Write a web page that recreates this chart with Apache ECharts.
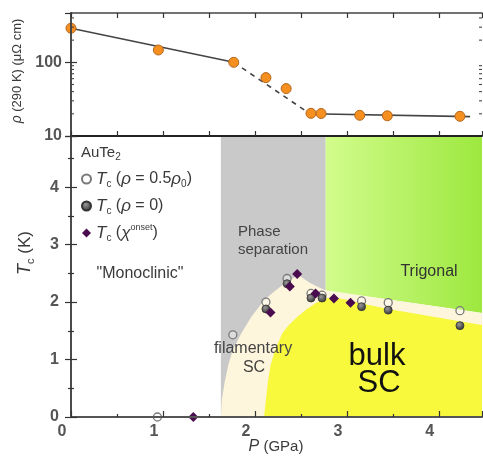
<!DOCTYPE html>
<html><head><meta charset="utf-8">
<script src="https://cdn.jsdelivr.net/npm/echarts@6/dist/echarts.min.js"></script>
<style>html,body{margin:0;padding:0;background:#fff}#c{width:483px;height:463px}</style>
</head><body><div id="c"></div>
<script>
// ---------- data ----------
const pTicks = [0, 1, 2, 3, 4];
const rhoMinorTicks = [20, 30, 40, 50, 60, 70, 80, 90, 200, 300, 400];
const rhoP   = [0, 0.95, 1.77, 2.12, 2.34, 2.61, 2.72, 3.14, 3.44, 4.23];
const rhoVal = [290, 147, 100, 62, 44, 20.3, 20.2, 19.1, 18.8, 18.5];
const rhoFitSolidA = [[0, 290], [1.77, 100]];
const rhoFitDashed = [[1.77, 100], [2.60, 20]];
const rhoFitSolidB = [[2.60, 20], [4.34, 18.3]];

const tcHalfP = [0.94, 1.76, 2.12, 2.35, 2.61, 2.73, 3.16, 3.45, 4.23];
const tcHalf  = [0, 1.43, 2.0, 2.41, 2.15, 2.12, 2.02, 1.99, 1.85];
const tcZeroP = [2.12, 2.35, 2.61, 2.73, 3.16, 3.45, 4.23];
const tcZero  = [1.88, 2.32, 2.07, 2.07, 1.92, 1.86, 1.59];
const tcChiP  = [1.33, 2.17, 2.38, 2.46, 2.66, 2.86, 3.04];
const tcChi   = [0, 1.82, 2.27, 2.49, 2.15, 2.06, 1.99];

const P_MAX = 4.47, TC_MAX = 4.89, RHO_MIN = 10, RHO_MAX = 467;

const phaseSepRegion = [[1.63,0],[2.77,0],[2.77,TC_MAX],[1.63,TC_MAX]];
const trigonalRegion = [[2.77,TC_MAX],[P_MAX,TC_MAX],[P_MAX,1.81],[2.77,2.2]];
const filamentaryRegion = [[1.63,0],[1.64,0.3],[1.67,0.59],[1.71,0.9],[1.76,1.17],[1.85,1.45],
  [1.96,1.74],[2.1,2.03],[2.2,2.17],[2.28,2.27],[2.38,2.38],[2.44,2.44],[2.5,2.44],[2.6,2.33],
  [2.77,2.2],[P_MAX,1.81],[P_MAX,0]];
const bulkRegion = [[2.10,0],[2.12,0.3],[2.14,0.59],[2.17,0.9],[2.22,1.17],[2.30,1.46],[2.37,1.6],
  [2.46,1.74],[2.56,1.87],[2.66,1.98],[2.76,2.06],[2.86,2.08],[3.0,2.04],[3.15,1.98],[3.45,1.88],
  [4.24,1.66],[P_MAX,1.6],[P_MAX,0]];

const legendNames = ['Tc (ρ = 0.5ρ0)', 'Tc (ρ = 0)', 'Tc (χonset)'];

// ---------- helpers ----------
const zip = (a, b) => a.map((v, i) => [v, b[i]]);
const FONT = '"Liberation Sans", Arial, sans-serif';
const TXT = '#3a3a3a';

function region(points, fill, z) {
  return {
    type: 'custom', xAxisIndex: 2, yAxisIndex: 2, z: z, silent: true,
    data: [[0, 0]],
    renderItem: (params, api) => ({
      type: 'polygon',
      shape: { points: points.map(p => api.coord(p)) },
      style: { fill: fill }
    })
  };
}

// minor log ticks on the rho axis (left and right edges, pointing inward)
const minorLogTicks = {
  type: 'custom', xAxisIndex: 0, yAxisIndex: 0, z: 11, silent: true, clip: false,
  data: rhoMinorTicks.map(v => [0, v]),
  renderItem: (params, api) => {
    const y = api.coord([0, api.value(1)])[1];
    const xl = api.coord([0, api.value(1)])[0];
    const xr = api.coord([P_MAX, api.value(1)])[0];
    const ls = { stroke: '#444', lineWidth: 1.1 };
    return { type: 'group', children: [
      { type: 'line', shape: { x1: xl, y1: y, x2: xl + 3, y2: y }, style: ls },
      { type: 'line', shape: { x1: xr, y1: y, x2: xr - 3, y2: y }, style: ls }
    ] };
  }
};

const richStyles = {
  i:   { fontStyle: 'italic', fontSize: 17, fontFamily: FONT, color: TXT, lineHeight: 20 },
  sub: { fontSize: 10, fontFamily: FONT, color: TXT, verticalAlign: 'bottom', lineHeight: 12 },
  sup: { fontSize: 9, fontFamily: FONT, color: TXT, verticalAlign: 'top', lineHeight: 10 },
  n:   { fontSize: 16, fontFamily: FONT, color: TXT, lineHeight: 20 }
};
const legendRich = {
  [legendNames[0]]: '{i|T}{sub|c}{n| (}{i|ρ}{n| = 0.5}{i|ρ}{sub|0}{n|)}',
  [legendNames[1]]: '{i|T}{sub|c}{n| (}{i|ρ}{n| = 0)}',
  [legendNames[2]]: '{i|T}{sub|c}{n| (}{i|χ}{sup|onset}{n|)}'
};

const axisLine = { show: true, lineStyle: { color: '#444', width: 1.6 } };
const tickIn = (len) => ({ show: true, inside: true, length: len, lineStyle: { color: '#333', width: 1.2 } });
const labelStyle = { fontSize: 16, color: '#555', fontFamily: FONT, fontWeight: 'bold' };

const chart = echarts.init(document.getElementById('c'));
chart.setOption({
  animation: false,
  backgroundColor: '#fff',
  grid: [
    { left: 71, right: 1, top: 13, height: 123 },
    { left: 71, right: 1, top: 136, height: 281 }
  ],
  xAxis: [
    { gridIndex: 0, type: 'value', position: 'bottom', min: 0, max: P_MAX, interval: 0.5, z: 10,
      axisLine: { show: true, lineStyle: { color: '#222', width: 2 } }, axisTick: tickIn(5),
      axisLabel: { show: false }, splitLine: { show: false } },
    { gridIndex: 0, type: 'value', position: 'top', min: 0, max: P_MAX, interval: 0.5, z: 10,
      axisLine: axisLine, axisTick: tickIn(5), axisLabel: { show: false }, splitLine: { show: false } },
    { gridIndex: 1, type: 'value', position: 'bottom', min: 0, max: P_MAX, interval: 1, z: 10,
      axisLine: { show: true, lineStyle: { color: '#555', width: 2 } }, axisTick: tickIn(6),
      minorTick: { show: true, splitNumber: 2, length: 3, lineStyle: { color: '#333', width: 1.2 } },
      axisLabel: Object.assign({ margin: 7, padding: [0, 18, 0, 0], showMaxLabel: false,
        formatter: v => (pTicks.includes(v) ? String(v) : '') }, labelStyle),
      splitLine: { show: false } },
    { gridIndex: 1, type: 'value', position: 'top', min: 0, max: P_MAX, interval: 1, z: 10,
      axisLine: { show: false }, axisTick: { show: false }, axisLabel: { show: false }, splitLine: { show: false } }
  ],
  yAxis: [
    { gridIndex: 0, type: 'log', position: 'left', min: RHO_MIN, max: RHO_MAX, logBase: 10, z: 10,
      axisLine: axisLine, axisTick: tickIn(6),
      axisLabel: Object.assign({ margin: 9, showMaxLabel: false, showMinLabel: true,
        formatter: v => (v === 10 || v === 100 ? String(v) : '') }, labelStyle),
      splitLine: { show: false } },
    { gridIndex: 0, type: 'log', position: 'right', min: RHO_MIN, max: RHO_MAX, logBase: 10, z: 10,
      axisLine: axisLine, axisTick: tickIn(6), axisLabel: { show: false }, splitLine: { show: false } },
    { gridIndex: 1, type: 'value', position: 'left', min: 0, max: TC_MAX, interval: 1, z: 10,
      axisLine: axisLine, axisTick: tickIn(6),
      minorTick: { show: true, splitNumber: 2, length: 3, lineStyle: { color: '#333', width: 1.2 } },
      axisLabel: Object.assign({ margin: 12, showMaxLabel: false,
        formatter: v => (Number.isInteger(v) ? String(v) : '') }, labelStyle),
      splitLine: { show: false } },
    { gridIndex: 1, type: 'value', position: 'right', min: 0, max: TC_MAX, interval: 1, z: 10,
      axisLine: axisLine, axisTick: tickIn(6),
      minorTick: { show: true, splitNumber: 2, length: 3, lineStyle: { color: '#333', width: 1.2 } },
      axisLabel: { show: false }, splitLine: { show: false } }
  ],
  legend: {
    orient: 'vertical', left: 81, top: 169, padding: 0, itemGap: 7,
    itemWidth: 9, itemHeight: 9,
    data: legendNames,
    formatter: name => legendRich[name],
    textStyle: { fontSize: 16, color: TXT, fontFamily: FONT, lineHeight: 20, rich: richStyles }
  },
  series: [
    region(phaseSepRegion, '#c9c9c9', 1),
    region(trigonalRegion, new echarts.graphic.LinearGradient(0, 0, 1, 0, [
      { offset: 0, color: '#d2fc8c' }, { offset: 1, color: '#9de83f' }]), 1),
    region(filamentaryRegion, '#fdf5dc', 2),
    region(bulkRegion, '#f8f83c', 3),
    minorLogTicks,
    { type: 'line', xAxisIndex: 0, yAxisIndex: 0, data: rhoFitSolidA, symbol: 'none', z: 4,
      lineStyle: { color: '#444', width: 1.6 } },
    { type: 'line', xAxisIndex: 0, yAxisIndex: 0, data: rhoFitDashed, symbol: 'none', z: 4,
      lineStyle: { color: '#444', width: 1.6, type: [5, 5] } },
    { type: 'line', xAxisIndex: 0, yAxisIndex: 0, data: rhoFitSolidB, symbol: 'none', z: 4,
      lineStyle: { color: '#444', width: 1.6 } },
    { type: 'scatter', xAxisIndex: 0, yAxisIndex: 0, data: zip(rhoP, rhoVal), symbol: 'circle',
      symbolSize: 10, z: 5, itemStyle: { color: '#f58f1f', borderColor: '#b5661c', borderWidth: 1, opacity: 1 } },
    { name: legendNames[0], type: 'scatter', xAxisIndex: 2, yAxisIndex: 2, data: zip(tcHalfP, tcHalf),
      symbol: 'circle', symbolSize: 8, z: 6,
      itemStyle: { color: 'rgba(255,255,255,0.35)', borderColor: '#7a7a7a', borderWidth: 1.3, opacity: 1 } },
    { name: legendNames[1], type: 'scatter', xAxisIndex: 2, yAxisIndex: 2, data: zip(tcZeroP, tcZero),
      symbol: 'circle', symbolSize: 8, z: 6,
      itemStyle: { color: new echarts.graphic.RadialGradient(0.4, 0.35, 0.6, [
        { offset: 0, color: '#9a9a9a' }, { offset: 1, color: '#3a3a3a' }]), borderColor: '#333', borderWidth: 0.8, opacity: 1 } },
    { name: legendNames[2], type: 'scatter', xAxisIndex: 2, yAxisIndex: 2, data: zip(tcChiP, tcChi),
      symbol: 'diamond', symbolSize: 10, z: 7,
      itemStyle: { color: '#4a0c4e', opacity: 1 } }
  ],
  graphic: [
    { type: 'text', x: 17, y: 71, rotation: Math.PI / 2, z: 20,
      style: { text: '{i|ρ}{m| (290 K) (μΩ cm)}', align: 'center', verticalAlign: 'middle',
        rich: { i: { fontStyle: 'italic', fontSize: 14, fontFamily: FONT, fill: TXT },
                m: { fontSize: 13, fontFamily: FONT, fill: TXT } } } },
    { type: 'text', x: 25, y: 253, rotation: Math.PI / 2, z: 20,
      style: { text: '{i|T}{s|c}{m| (K)}', align: 'center', verticalAlign: 'middle',
        rich: { i: { fontStyle: 'italic', fontSize: 18, fontFamily: FONT, fill: TXT, lineHeight: 22 },
                s: { fontSize: 11, fontFamily: FONT, fill: TXT, verticalAlign: 'bottom', lineHeight: 13 },
                m: { fontSize: 17, fontFamily: FONT, fill: TXT, lineHeight: 22 } } } },
    { type: 'text', x: 276, y: 447, z: 20,
      style: { text: '{i|P}{m| (GPa)}', align: 'center', verticalAlign: 'middle',
        rich: { i: { fontStyle: 'italic', fontSize: 16, fontFamily: FONT, fill: TXT },
                m: { fontSize: 15, fontFamily: FONT, fill: TXT } } } },
    { type: 'text', x: 81, y: 153, z: 20,
      style: { text: '{m|AuTe}{s|2}', align: 'left', verticalAlign: 'middle',
        rich: { m: { fontSize: 15, fontFamily: FONT, fill: TXT, lineHeight: 19 },
                s: { fontSize: 10, fontFamily: FONT, fill: TXT, verticalAlign: 'bottom', lineHeight: 12 } } } },
    { type: 'text', x: 140, y: 274, z: 20,
      style: { text: '"Monoclinic"', align: 'center', verticalAlign: 'middle', fontSize: 16, fontFamily: FONT, fill: TXT } },
    { type: 'text', x: 238, y: 232, z: 20,
      style: { text: 'Phase', align: 'left', verticalAlign: 'middle', fontSize: 15, fontFamily: FONT, fill: '#444' } },
    { type: 'text', x: 238, y: 250, z: 20,
      style: { text: 'separation', align: 'left', verticalAlign: 'middle', fontSize: 15, fontFamily: FONT, fill: '#444' } },
    { type: 'text', x: 429, y: 272, z: 20,
      style: { text: 'Trigonal', align: 'center', verticalAlign: 'middle', fontSize: 16, fontFamily: FONT, fill: '#333' } },
    { type: 'text', x: 253, y: 349, z: 20,
      style: { text: 'filamentary', align: 'center', verticalAlign: 'middle', fontSize: 16, fontFamily: FONT, fill: '#444' } },
    { type: 'text', x: 254, y: 368, z: 20,
      style: { text: 'SC', align: 'center', verticalAlign: 'middle', fontSize: 16, fontFamily: FONT, fill: '#444' } },
    { type: 'text', x: 377, y: 356, z: 20,
      style: { text: 'bulk', align: 'center', verticalAlign: 'middle', fontSize: 31, fontFamily: FONT, fill: '#111' } },
    { type: 'text', x: 379, y: 383, z: 20,
      style: { text: 'SC', align: 'center', verticalAlign: 'middle', fontSize: 31, fontFamily: FONT, fill: '#111' } }
  ]
});
</script>
</body></html>
